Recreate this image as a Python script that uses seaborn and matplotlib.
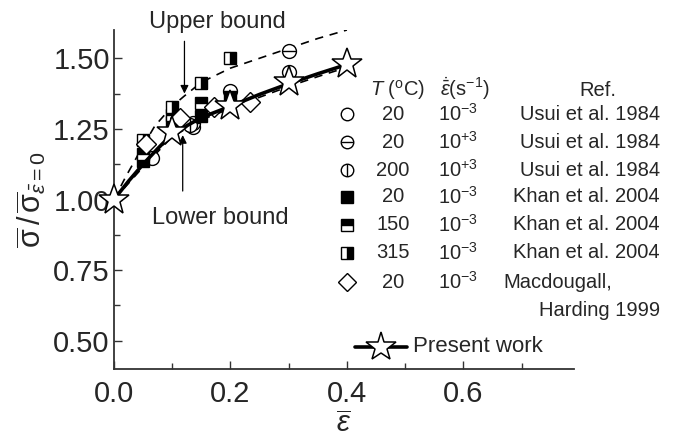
import matplotlib
matplotlib.use("Agg")
import matplotlib.pyplot as plt
import pandas as pd
import seaborn as sns

# present work (stars) and the solid curve through them
present_x = [0.0, 0.1, 0.2, 0.3, 0.4]
present_y = [1.00, 1.24, 1.33, 1.415, 1.478]
solid_x = [0.0, 0.025, 0.05, 0.075, 0.1, 0.15, 0.2, 0.25, 0.3, 0.35, 0.4]
solid_y = [1.0, 1.065, 1.125, 1.18, 1.232, 1.29, 1.33, 1.372, 1.41, 1.445, 1.478]

# bounds (dashed)
upper_x = [0.0, 0.02, 0.05, 0.07, 0.1, 0.12, 0.15, 0.2, 0.25, 0.3, 0.35, 0.4]
upper_y = [1.0, 1.08, 1.19, 1.26, 1.33, 1.365, 1.415, 1.465, 1.50, 1.535, 1.57, 1.60]
lower_x = [0.0, 0.05, 0.1, 0.15, 0.2, 0.25, 0.3, 0.35, 0.4]
lower_y = [1.0, 1.115, 1.222, 1.282, 1.322, 1.362, 1.40, 1.435, 1.468]

# experimental data
usui20_lo_x = [0.065, 0.135]
usui20_lo_y = [1.148, 1.255]
usui20_hi_x = [0.135, 0.2, 0.3]
usui20_hi_y = [1.27, 1.385, 1.525]
usui200_hi_x = [0.13, 0.3]
usui200_hi_y = [1.262, 1.45]
khan20_x = [0.05, 0.1, 0.15, 0.2]
khan20_y = [1.135, 1.275, 1.297, 1.36]
khan150_x = [0.05, 0.1, 0.15]
khan150_y = [1.16, 1.30, 1.342]
khan315_x = [0.05, 0.1, 0.15, 0.2]
khan315_y = [1.21, 1.326, 1.414, 1.502]
macd_x = [0.055, 0.113, 0.172, 0.233]
macd_y = [1.197, 1.287, 1.326, 1.345]

# legend table
leg_T = ["20", "20", "200", "20", "150", "315", "20"]
leg_rate = [r"10$^{-3}$", r"10$^{+3}$", r"10$^{+3}$", r"10$^{-3}$", r"10$^{-3}$", r"10$^{-3}$", r"10$^{-3}$"]
leg_ref = ["Usui et al. 1984", "Usui et al. 1984", "Usui et al. 1984",
           "Khan et al. 2004", "Khan et al. 2004", "Khan et al. 2004", "Macdougall,"]

sns.set_style("ticks")
plt.rcParams["font.family"] = ["Liberation Sans", "DejaVu Sans"]
plt.rcParams["mathtext.fontset"] = "custom"
plt.rcParams["mathtext.rm"] = "Liberation Sans"
plt.rcParams["mathtext.it"] = "Liberation Sans:italic"
plt.rcParams["mathtext.bf"] = "Liberation Sans:bold"
plt.rcParams["xtick.direction"] = "in"
plt.rcParams["ytick.direction"] = "in"

W, H = 673, 441
fig = plt.figure(figsize=(W / 100, H / 100), dpi=100)
ax = fig.add_axes([114 / W, 72 / H, 460 / W, 339 / H])


def pt(df_x, df_y, **kw):
    d = pd.DataFrame({"x": df_x, "y": df_y})
    kw.setdefault("markeredgecolor", "black")
    kw.setdefault("markeredgewidth", 1.0)
    sns.lineplot(data=d, x="x", y="y", ax=ax, estimator=None, sort=False,
                 linestyle="", color="black", clip_on=False, **kw)


# curves
sns.lineplot(data=pd.DataFrame({"x": upper_x, "y": upper_y}), x="x", y="y", ax=ax,
             estimator=None, sort=False, color="black", lw=1.2,
             linestyle=(0, (5, 4)), zorder=2)
sns.lineplot(data=pd.DataFrame({"x": lower_x, "y": lower_y}), x="x", y="y", ax=ax,
             estimator=None, sort=False, color="black", lw=1.2,
             linestyle=(0, (5, 4)), zorder=2)

# experimental markers
pt(usui20_lo_x, usui20_lo_y, marker="o", markersize=10, markerfacecolor="white", zorder=3)
pt(usui20_hi_x, usui20_hi_y, marker="o", markersize=10, markerfacecolor="white", zorder=3)
pt(usui20_hi_x, usui20_hi_y, marker="_", markersize=10, zorder=3)
pt(usui200_hi_x, usui200_hi_y, marker="o", markersize=10, markerfacecolor="white", zorder=3)
pt(usui200_hi_x, usui200_hi_y, marker="|", markersize=10, zorder=3)
pt(khan20_x, khan20_y, marker="s", markersize=9, markerfacecolor="black", zorder=3)
pt(khan150_x, khan150_y, marker="s", markersize=9, fillstyle="top",
   markerfacecolor="black", markerfacecoloralt="white", zorder=3)
pt(khan315_x, khan315_y, marker="s", markersize=9, fillstyle="right",
   markerfacecolor="black", markerfacecoloralt="white", zorder=3)
pt(macd_x, macd_y, marker="D", markersize=10, markerfacecolor="white", zorder=3)

# present work
sns.lineplot(data=pd.DataFrame({"x": solid_x, "y": solid_y}), x="x", y="y", ax=ax,
             estimator=None, sort=False, color="black", lw=2.6, zorder=4)
pt(present_x, present_y, marker="*", markersize=23, markerfacecolor="white",
   markeredgewidth=1.1, zorder=5)

ax.set_xlim(0, 0.79)
ax.set_ylim(0.40, 1.60)
ax.set_xticks([0.0, 0.2, 0.4, 0.6])
ax.set_xticks([0.1, 0.3, 0.5, 0.7], minor=True)
ax.set_yticks([0.50, 0.75, 1.00, 1.25, 1.50])
ax.set_yticks([0.625, 0.875, 1.125, 1.375], minor=True)
ax.set_xticklabels(["0.0", "0.2", "0.4", "0.6"])
ax.set_yticklabels(["0.50", "0.75", "1.00", "1.25", "1.50"])
ax.tick_params(which="major", length=6, width=1.0, labelsize=21, color="#333333")
ax.tick_params(which="minor", length=4, width=1.0, color="#333333")
ax.tick_params(axis="x", pad=8)
ax.tick_params(axis="y", pad=3)
sns.despine(ax=ax)
for s in ("left", "bottom"):
    ax.spines[s].set_linewidth(1.3)
    ax.spines[s].set_color("#333333")

ax.set_xlabel(r"$\overline{\varepsilon}$", fontsize=21, labelpad=2)
ax.set_ylabel(r"$\overline{\mathrm{\sigma}}\,/\,\overline{\mathrm{\sigma}}_{\bar{\varepsilon}=0}$",
              fontsize=22, labelpad=4)

# bound annotations: text plus vertical arrows
ax.text(0.178, 1.63, "Upper bound", ha="center", va="center", fontsize=17, clip_on=False)
ax.annotate("", xy=(0.121, 1.375), xytext=(0.121, 1.56), annotation_clip=False,
            arrowprops=dict(arrowstyle="-|>", color="black", lw=0.9,
                            shrinkA=0, shrinkB=0, mutation_scale=12))
ax.text(0.182, 0.934, "Lower bound", ha="center", va="center", fontsize=17)
ax.annotate("", xy=(0.118, 1.228), xytext=(0.118, 1.03),
            arrowprops=dict(arrowstyle="-|>", color="black", lw=0.9,
                            shrinkA=0, shrinkB=0, mutation_scale=12))


# legend table (figure pixel coordinates from top-left)
def fp(x, y):
    return x / W, 1 - y / H


fs = 14.5
fig.text(*fp(370, 90), r"$T$ ($^{\rm o}$C)", fontsize=fs, va="center", ha="left")
fig.text(*fp(440, 89), r"$\dot{\bar{\varepsilon}}$(s$^{-1}$)", fontsize=fs, va="center", ha="left")
fig.text(*fp(598, 90), "Ref.", fontsize=fs, va="center", ha="center")
rows_y = [114, 142, 170, 197, 225, 253, 282]
for i, yy in enumerate(rows_y):
    fig.text(*fp(393, yy), leg_T[i], fontsize=fs, va="center", ha="center")
    fig.text(*fp(438, yy), leg_rate[i], fontsize=fs, va="center", ha="left")
    if i < 6:
        fig.text(*fp(660, yy), leg_ref[i], fontsize=fs, va="center", ha="right")
    else:
        fig.text(*fp(503, yy), leg_ref[i], fontsize=fs, va="center", ha="left")
fig.text(*fp(660, 310), "Harding 1999", fontsize=fs, va="center", ha="right")

mx = 347 / W
leg_styles = [
    dict(marker="o", markersize=9, markerfacecolor="white"),
    dict(marker="o", markersize=9, markerfacecolor="white"),
    dict(marker="o", markersize=9, markerfacecolor="white"),
    dict(marker="s", markersize=8, markerfacecolor="black"),
    dict(marker="s", markersize=8, fillstyle="top", markerfacecolor="black", markerfacecoloralt="white"),
    dict(marker="s", markersize=8, fillstyle="right", markerfacecolor="black", markerfacecoloralt="white"),
    dict(marker="D", markersize=9, markerfacecolor="white"),
]
for yy, st in zip(rows_y, leg_styles):
    ax.plot([mx], [1 - yy / H], transform=fig.transFigure, clip_on=False, linestyle="",
            color="black", markeredgecolor="black", markeredgewidth=1.0, **st)
ax.plot([mx], [1 - rows_y[1] / H], transform=fig.transFigure, clip_on=False, linestyle="",
        marker="_", markersize=9, color="black", markeredgewidth=1.0)
ax.plot([mx], [1 - rows_y[2] / H], transform=fig.transFigure, clip_on=False, linestyle="",
        marker="|", markersize=9, color="black", markeredgewidth=1.0)

ax.plot([355 / W, 407 / W], [1 - 347 / H, 1 - 347 / H], transform=fig.transFigure,
        clip_on=False, color="black", lw=2.6)
ax.plot([381 / W], [1 - 347 / H], transform=fig.transFigure, clip_on=False, linestyle="",
        marker="*", markersize=22, markerfacecolor="white", markeredgecolor="black",
        markeredgewidth=1.1)
fig.text(*fp(413, 347), "Present work", fontsize=16, va="center", ha="left")

fig.savefig("out.png", dpi=100)
